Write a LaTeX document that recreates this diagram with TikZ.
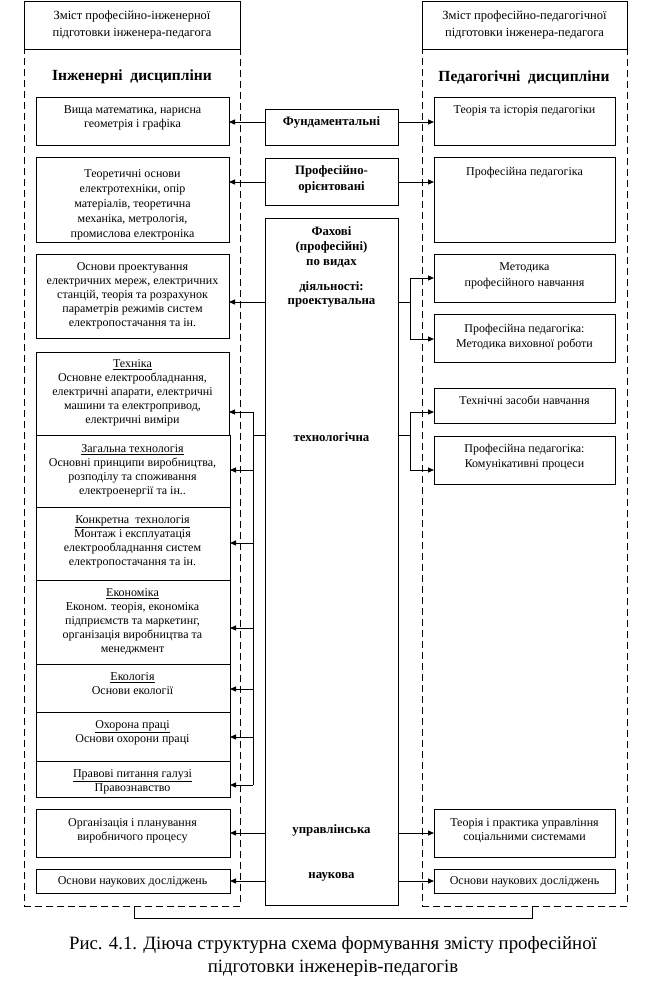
\documentclass[tikz,border=0pt]{standalone}
\usepackage{fontspec}
\setmainfont{Liberation Serif}
\usetikzlibrary{arrows.meta}
\begin{document}
\begin{tikzpicture}[x=1pt,y=-1pt,
  box/.style={draw, line width=1pt, anchor=north west, inner sep=0pt, outer sep=0pt},
  dbox/.style={draw, line width=1pt, dash pattern=on 7pt off 4pt, anchor=north west, inner sep=0pt, outer sep=0pt},
  txt/.style={font=\fontsize{12}{14}\selectfont, align=center, inner sep=0pt, anchor=north, yshift=-2.5pt},
  btxt/.style={font=\fontsize{12.8}{15}\selectfont\bfseries, align=center, inner sep=0pt},
  head/.style={font=\fontsize{12.5}{17}\selectfont, align=center, inner sep=0pt},
  ttl/.style={font=\fontsize{15.5}{18}\selectfont\bfseries, inner sep=0pt},
  arr/.style={line width=1pt, -{Triangle[length=6pt,width=5pt]}},
  ln/.style={line width=1pt}]
\useasboundingbox (0,0) rectangle (645,991);
\fill[white] (0,0) rectangle (645,991);

% headers and dashed frames
\node[box, minimum width=216pt, minimum height=48pt] (lh) at (24,1) {};
\node[head] (lht) at (lh.center) {Зміст професійно-інженерної\\підготовки інженера-педагога};
\node[box, minimum width=205pt, minimum height=48pt] (rh) at (422,1) {};
\node[head] (rht) at (rh.center) {Зміст професійно-педагогічної\\підготовки інженера-педагога};
\node[dbox, minimum width=216pt, minimum height=857pt] (ld) at (24,49) {};
\node[dbox, minimum width=205pt, minimum height=857pt] (rd) at (422,49) {};
\node[ttl] (lt) at (132,77) {Інженерні\ \ дисципліни};
\node[ttl] (rt) at (524,77) {Педагогічні\ \ дисципліни};

% left boxes
\node[box, minimum width=193pt, minimum height=48pt] (l1) at (36,97) {};
\node[box, minimum width=193pt, minimum height=85pt] (l2) at (36,157) {};
\node[box, minimum width=193pt, minimum height=84pt] (l3) at (36,254) {};
\node[box, minimum width=193pt, minimum height=83pt] (l4) at (36,352) {};
\node[box, minimum width=194pt, minimum height=72pt] (l5) at (36,435) {};
\node[box, minimum width=194pt, minimum height=73pt] (l6) at (36,507) {};
\node[box, minimum width=194pt, minimum height=84pt] (l7) at (36,580) {};
\node[box, minimum width=194pt, minimum height=48pt] (l8) at (36,664) {};
\node[box, minimum width=194pt, minimum height=49pt] (l9) at (36,712) {};
\node[box, minimum width=194pt, minimum height=36pt] (l10) at (36,761) {};
\node[box, minimum width=194pt, minimum height=48pt] (l11) at (36,809) {};
\node[box, minimum width=194pt, minimum height=24pt] (l12) at (36,869) {};

\node[txt] (l1t) at (132.5,103) {Вища математика, нарисна\\геометрія і графіка};
\node[txt, font=\fontsize{12}{15}\selectfont] (l2t) at (132.5,167) {Теоретичні основи\\електротехніки, опір\\матеріалів, теоретична\\механіка, метрологія,\\промислова електроніка};
\node[txt] (l3t) at (132.5,260) {Основи проектування\\електричних мереж, електричних\\станцій, теорія та розрахунок\\параметрів режимів систем\\електропостачання та ін.};
\node[txt] (l4t) at (132.5,357) {\underline{Техніка}\\Основне електрообладнання,\\електричні апарати, електричні\\машини та електропривод,\\електричні виміри};
\node[txt] (l5t) at (132.5,442) {\underline{Загальна технологія}\\Основні принципи виробництва,\\розподілу та споживання\\електроенергії та ін..};
\node[txt] (l6t) at (132.5,513) {\underline{Конкретна\ \ технологія}\\Монтаж і експлуатація\\електрообладнання систем\\електропостачання та ін.};
\node[txt] (l7t) at (132.5,586) {\underline{Економіка}\\Економ. теорія, економіка\\підприємств та маркетинг,\\організація виробництва та\\менеджмент};
\node[txt] (l8t) at (132.5,670) {\underline{Екологія}\\Основи екології};
\node[txt] (l9t) at (132.5,718) {\underline{Охорона праці}\\Основи охорони праці};
\node[txt] (l10t) at (132.5,767) {\underline{Правові питання галузі}\\Правознавство};
\node[txt] (l11t) at (132.5,816) {Організація і планування\\виробничого процесу};
\node[txt] (l12t) at (132.5,874) {Основи наукових досліджень};

% middle boxes
\node[box, minimum width=133pt, minimum height=36pt] (m1) at (265,109) {};
\node[box, minimum width=133pt, minimum height=47pt] (m2) at (265,158) {};
\node[box, minimum width=133pt, minimum height=687pt] (m3) at (265,218) {};
\node[btxt] (m1t) at (331.5,122) {Фундаментальні};
\node[btxt, font=\fontsize{12.8}{16}\selectfont\bfseries] (m2t) at (331.5,179) {Професійно-\\орієнтовані};
\node[btxt] (m3a) at (331.5,247) {Фахові\\(професійні)\\по видах};
\node[btxt, font=\fontsize{12.8}{14}\selectfont\bfseries] (m3b) at (331.5,294) {діяльності:\\проектувальна};
\node[btxt] (m3c) at (331.5,437) {технологічна};
\node[btxt] (m3d) at (331.5,830) {управлінська};
\node[btxt] (m3e) at (331.5,877) {наукова};

% right boxes
\node[box, minimum width=181pt, minimum height=48pt] (r1) at (434,97) {};
\node[box, minimum width=181pt, minimum height=85pt] (r2) at (434,157) {};
\node[box, minimum width=181pt, minimum height=48pt] (r3) at (434,254) {};
\node[box, minimum width=181pt, minimum height=48pt] (r4) at (434,314) {};
\node[box, minimum width=181pt, minimum height=35pt] (r5) at (434,388) {};
\node[box, minimum width=181pt, minimum height=48pt] (r6) at (434,436) {};
\node[box, minimum width=181pt, minimum height=48pt] (r7) at (434,809) {};
\node[box, minimum width=181pt, minimum height=24pt] (r8) at (434,869) {};

\node[txt] (r1t) at (524.5,103) {Теорія та історія педагогіки};
\node[txt] (r2t) at (524.5,164) {Професійна педагогіка};
\node[txt, font=\fontsize{12}{16}\selectfont] (r3t) at (524.5,260) {Методика\\професійного навчання};
\node[txt, font=\fontsize{12}{15}\selectfont] (r4t) at (524.5,321) {Професійна педагогіка:\\Методика виховної роботи};
\node[txt] (r5t) at (524.5,393) {Технічні засоби навчання};
\node[txt, font=\fontsize{12}{15}\selectfont] (r6t) at (524.5,441) {Професійна педагогіка:\\Комунікативні процеси};
\node[txt] (r7t) at (524.5,816) {Теорія і практика управління\\соціальними системами};
\node[txt] (r8t) at (524.5,874) {Основи наукових досліджень};

% level coordinates
\coordinate (yf) at (0,122);
\coordinate (yo) at (0,182);
\coordinate (yp) at (0,302);
\coordinate (yt) at (0,435);
\coordinate (yu) at (0,833);
\coordinate (yn) at (0,881);

% simple arrows
\draw[arr] (m1.west |- yf) -- (l1.east |- yf);
\draw[arr] (m1.east |- yf) -- (r1.west |- yf);
\draw[arr] (m2.west |- yo) -- (l2.east |- yo);
\draw[arr] (m2.east |- yo) -- (r2.west |- yo);
\draw[arr] (m3.west |- yp) -- (l3.east |- yp);
\draw[arr] (m3.west |- yu) -- (l11.east |- yu);
\draw[arr] (m3.east |- yu) -- (r7.west |- yu);
\draw[arr] (m3.west |- yn) -- (l12.east |- yn);
\draw[arr] (m3.east |- yn) -- (r8.west |- yn);

% right fork (design)
\coordinate (rp) at (410,302);
\draw[ln] (m3.east |- rp) -- (rp);
\draw[arr] (rp) |- (r3.west |- 0,278);
\draw[arr] (rp) |- (r4.west |- 0,339);
% right fork (technology)
\coordinate (rtc) at (410,435);
\draw[ln] (m3.east |- rtc) -- (rtc);
\draw[arr] (rtc) |- (r5.west |- 0,412);
\draw[arr] (rtc) |- (r6.west |- 0,470);

% left bus (technology)
\coordinate (bt) at (253,412);
\coordinate (bb) at (253,785);
\coordinate (bj) at (253,435);
\draw[ln] (m3.west |- bj) -- (bj);
\draw[ln] (bt) -- (bb);
\draw[arr] (bt) -- (l4.east |- bt);
\draw[arr] (253,470) -- (l5.east |- 0,470);
\draw[arr] (253,543) -- (l6.east |- 0,543);
\draw[arr] (253,628) -- (l7.east |- 0,628);
\draw[arr] (253,689) -- (l8.east |- 0,689);
\draw[arr] (253,737) -- (l9.east |- 0,737);
\draw[arr] (bb) -- (l10.east |- bb);

% bottom link
\draw[ln] ([xshift=2pt]ld.south) -- ++(0,12) -| ([xshift=7.5pt]rd.south);

% caption
\node[font=\fontsize{18.8}{23}\selectfont, align=center, inner sep=0pt] (cap) at (333,956) {Рис. 4.1. Діюча структурна схема формування змісту професійної\\підготовки інженерів-педагогів};
\end{tikzpicture}
\end{document}
